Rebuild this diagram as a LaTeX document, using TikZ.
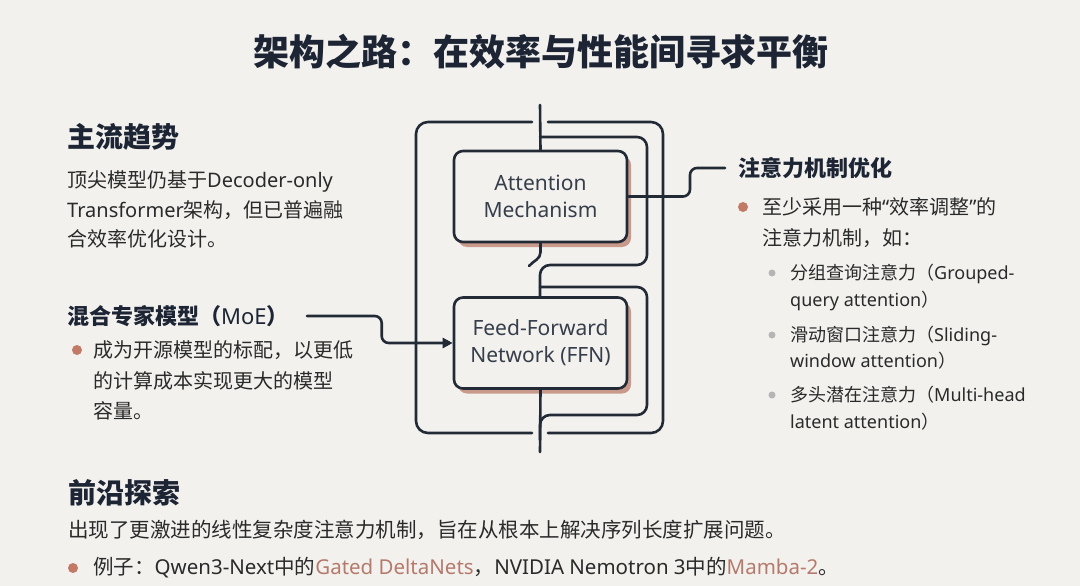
\documentclass[tikz,border=0pt]{standalone}
\usepackage{fontspec}
\setmainfont{Noto Sans CJK SC}
\newfontfamily\lat{Noto Sans}
\usetikzlibrary{arrows.meta,shadows}

\definecolor{bgc}{HTML}{F2F1EE}
\definecolor{ink}{HTML}{1D2535}
\definecolor{bodyc}{HTML}{2A2A2A}
\definecolor{wirec}{HTML}{222A36}
\definecolor{boxtxt}{HTML}{363E4B}
\definecolor{rust}{HTML}{C27A66}
\definecolor{rustt}{HTML}{B47A6C}
\definecolor{dotg}{HTML}{B5B5B5}
\definecolor{shade}{HTML}{C99A8B}

\tikzset{
  wire/.style={draw=wirec,line width=2.6pt},
  block/.style={wire,fill=bgc,rounded corners=9pt,minimum width=173pt,minimum height=91pt,
    align=center,text=boxtxt,font=\lat\fontsize{21}{27}\selectfont,
    drop shadow={shadow xshift=4pt,shadow yshift=-5pt,fill=shade,opacity=1}},
  pagetitle/.style={inner sep=0pt,text=ink,font=\bfseries\fontsize{36}{40}\selectfont},
  heading/.style={anchor=west,inner sep=0pt,text=ink,font=\bfseries\fontsize{28}{32}\selectfont},
  subhead/.style={anchor=west,inner sep=0pt,text=ink,font=\bfseries\fontsize{22}{26}\selectfont},
  body/.style={anchor=west,inner sep=0pt,text=bodyc,font=\fontsize{20}{24}\selectfont,text height=17pt,text depth=3pt},
  wide/.style={body,font=\fontsize{20.5}{24}\selectfont,text height=17.4pt,text depth=3.1pt},
  note/.style={anchor=west,inner sep=0pt,text=bodyc,font=\fontsize{18}{22}\selectfont,text height=15.3pt,text depth=2.7pt},
  bul/.style={circle,fill=rust,inner sep=0pt,minimum size=10pt},
  subbul/.style={circle,fill=dotg,inner sep=0pt,minimum size=7pt},
}

\begin{document}
\begin{tikzpicture}[line cap=round,line join=round,>={Triangle[length=10pt,width=10pt]},x=1pt,y=-1pt]
\fill[bgc] (0,0) rectangle (1080,586);
\useasboundingbox (0,0) rectangle (1080,586);

\node[pagetitle] (ttl) at (541,52) {架构之路：在效率与性能间寻求平衡};

% residual loops
\coordinate (in) at (540,105);
\coordinate (out) at (540,452);
\draw[wire,rounded corners=12pt] (532,122) -- (416,122) -- (416,433) -- (532,433);
\draw[wire,rounded corners=12pt] (548,122) -- (663,122) -- (663,433) -- (548,433);
\draw[wire,rounded corners=10pt] (540,137) -| (647,265) -| (540,298);
\draw[wire,rounded corners=10pt] (540,287) -| (647,415) -| (540,440);

% blocks
\node[block] (att) at (540.5,196.5) {Attention\\Mechanism};
\node[block] (ffn) at (540.5,343) {Feed-Forward\\Network (FFN)};
\draw[wire] (in) -- (att.north);
\draw[wire] (ffn.south) -- (out);
\draw[wire] (att.south) -- ++(0,9) to[out=-90,in=50] (529,266);

% left column
\node[heading] (trend) at (67,137) {主流趋势};
\node[body] (trend1) at (67,180) {顶尖模型仍基于{\lat Decoder-only}};
\node[body] (trend2) at (67,210) {{\lat Transformer}架构，但已普遍融};
\node[body] (trend3) at (67,239) {合效率优化设计。};

\node[subhead] (moe) at (67,316) {混合专家模型（{\lat MoE}）};
\node[bul] (moeb) at (77,350) {};
\node[body] (moe1) at (93,350) {成为开源模型的标配，以更低};
\node[body] (moe2) at (93,381) {的计算成本实现更大的模型};
\node[body] (moe3) at (93,411) {容量。};

% right column
\node[subhead] (opt) at (738,168) {注意力机制优化};
\node[bul] (optb) at (743,207) {};
\node[body] (opt1) at (762,207) {至少采用一种{\lat “}效率调整{\lat ”}的};
\node[body] (opt2) at (762,238) {注意力机制，如：};

\node[subbul] (gqab) at (772,273) {};
\node[note] (gqa1) at (790,273) {分组查询注意力（{\lat Grouped-}};
\node[note] (gqa2) at (790,300) {{\lat query attention}）};
\node[subbul] (swab) at (772,335) {};
\node[note] (swa1) at (790,335) {滑动窗口注意力（{\lat Sliding-}};
\node[note] (swa2) at (790,361) {{\lat window attention}）};
\node[subbul] (mlab) at (772,395) {};
\node[note] (mla1) at (790,395) {多头潜在注意力（{\lat Multi-head}};
\node[note] (mla2) at (790,422) {{\lat latent attention}）};

% bottom
\node[heading] (edge) at (68,493) {前沿探索};
\node[wide] (edge1) at (68,530) {出现了更激进的线性复杂度注意力机制，旨在从根本上解决序列长度扩展问题。};
\node[bul] (edgeb) at (73,568) {};
\node[wide] (edge2) at (93,567) {例子：{\lat Qwen3-Next}中的{\lat\color{rustt}Gated DeltaNets}，{\lat NVIDIA Nemotron 3}中的{\lat\color{rustt}Mamba-2}。};

% connectors
\draw[wire,rounded corners=7pt,->] ([xshift=18pt]moe.east) -| ([xshift=-71pt]ffn.west) -- (ffn.west);
\draw[wire,rounded corners=7pt] (att.east) -| ([xshift=-48pt]opt.west) -- ([xshift=-13pt]opt.west);
\end{tikzpicture}
\end{document}
